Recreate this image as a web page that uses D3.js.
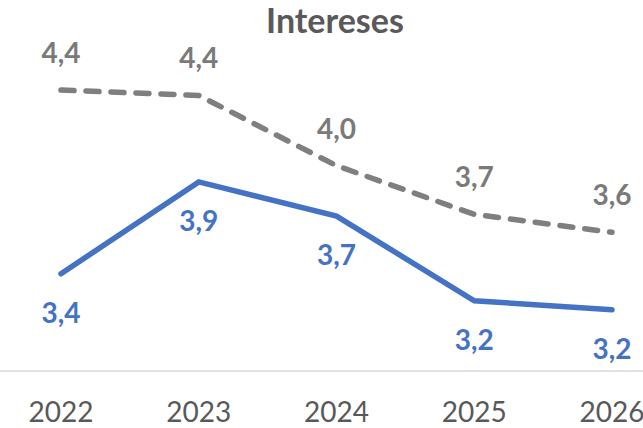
<!DOCTYPE html>
<html>
<head>
<meta charset="utf-8">
<script src="https://cdn.jsdelivr.net/npm/d3@7"></script>
<style>
  body { margin: 0; background: #fff; }
  svg { display: block; font-family: Lato, "Open Sans", sans-serif; }
</style>
</head>
<body>
<svg id="viz"></svg>
<script>
// ---------------------------
// Data
// ---------------------------

const years = ["2022", "2023", "2024", "2025", "2026"];
const previsto = [4.40, 4.37, 3.98, 3.71, 3.61];   // gray dashed
const actual = [3.38, 3.89, 3.70, 3.23, 3.18];     // blue solid
const title = "Intereses";

// ---------------------------
// Create SVG
// ---------------------------

const width = 643;
const height = 428;

const svg = d3.select("#viz")
    .attr("width", width)
    .attr("height", height)
    .attr("viewBox", `0 0 ${width} ${height}`);

const x = d3.scalePoint()
    .domain(years)
    .range([61, 612]);

const y = d3.scaleLinear()
    .domain([2.84, 4.9])
    .range([371, 0]);

const fmt = d3.formatLocale({decimal: ",", thousands: ".", grouping: [3], currency: ["", "€"]}).format(".1f");

// title
svg.append("text")
    .attr("x", 335)
    .attr("y", 33)
    .attr("text-anchor", "middle")
    .attr("font-size", 34)
    .attr("font-weight", "bold")
    .attr("fill", "#595959")
    .text(title);

// baseline axis
svg.append("line")
    .attr("x1", 0)
    .attr("x2", width)
    .attr("y1", y(2.84))
    .attr("y2", y(2.84))
    .attr("stroke", "#d9d9d9")
    .attr("stroke-width", 1.5);

// year labels
svg.selectAll(".year")
    .data(years)
    .join("text")
    .attr("class", "year")
    .attr("x", d => x(d))
    .attr("y", 422)
    .attr("text-anchor", "middle")
    .attr("font-size", 28)
    .attr("fill", "#595959")
    .text(d => d);

const line = d3.line()
    .x((d, i) => x(years[i]))
    .y(d => y(d));

// gray dashed series
svg.append("path")
    .datum(previsto)
    .attr("d", line)
    .attr("fill", "none")
    .attr("stroke", "#7f7f7f")
    .attr("stroke-width", 5.5)
    .attr("stroke-dasharray", "13,12")
    .attr("stroke-linecap", "round")
    .attr("stroke-linejoin", "round");

// blue series
svg.append("path")
    .datum(actual)
    .attr("d", line)
    .attr("fill", "none")
    .attr("stroke", "#4472c4")
    .attr("stroke-width", 5.5)
    .attr("stroke-linecap", "round")
    .attr("stroke-linejoin", "miter");

// labels
svg.selectAll(".lblGray")
    .data(previsto)
    .join("text")
    .attr("class", "lblGray")
    .attr("x", (d, i) => x(years[i]))
    .attr("y", d => y(d) - 27)
    .attr("text-anchor", "middle")
    .attr("font-size", 28)
    .attr("font-weight", "bold")
    .attr("fill", "#7a7a7a")
    .text(d => fmt(d));

svg.selectAll(".lblBlue")
    .data(actual)
    .join("text")
    .attr("class", "lblBlue")
    .attr("x", (d, i) => x(years[i]))
    .attr("y", d => y(d) + 49)
    .attr("text-anchor", "middle")
    .attr("font-size", 28)
    .attr("font-weight", "bold")
    .attr("fill", "#4472c4")
    .text(d => fmt(d));
</script>
</body>
</html>
